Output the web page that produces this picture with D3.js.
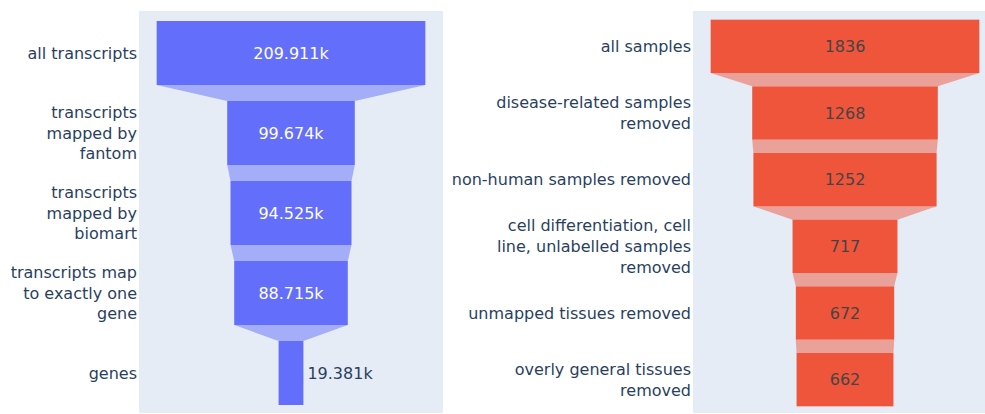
<!DOCTYPE html>
<html>
<head>
<meta charset="utf-8">
<script src="https://cdn.jsdelivr.net/npm/d3@7"></script>
<style>
  html, body { margin: 0; padding: 0; background: #fff; }
  svg { display: block; }
  text { font-family: "DejaVu Sans", Verdana, sans-serif; font-size: 16px; }
</style>
</head>
<body>
<svg id="chart" width="985" height="414"></svg>
<script>
// Transcript filtering funnel
const transcriptStages = [
  "all transcripts",
  "transcripts<br>mapped by<br>fantom",
  "transcripts<br>mapped by<br>biomart",
  "transcripts map<br>to exactly one<br>gene",
  "genes"
];
const transcriptCounts = [209911, 99674, 94525, 88715, 19381];

// Sample filtering funnel
const sampleStages = [
  "all samples",
  "disease-related samples<br>removed",
  "non-human samples removed",
  "cell differentiation, cell<br>line, unlabelled samples<br>removed",
  "unmapped tissues removed",
  "overly general tissues<br>removed"
];
const sampleCounts = [1836, 1268, 1252, 717, 672, 662];

const svg = d3.select("#chart");
const FONT = 16, LINE_H = FONT * 1.3;
const BG = "#E5ECF6", LABEL = "#2a3f5f";

function funnel(opts) {
  const { stages, counts, left, width, top, bottom, color, insideText, fmt } = opts;
  const g = svg.append("g");

  g.append("rect")
    .attr("x", left).attr("y", top - 2)
    .attr("width", width).attr("height", bottom - top + 2)
    .attr("fill", BG);

  const clip = "clip" + left;
  svg.append("clipPath").attr("id", clip)
    .append("rect").attr("x", left).attr("y", top - 2)
    .attr("width", width).attr("height", bottom - top + 2);

  const plot = g.append("g").attr("clip-path", `url(#${clip})`);

  const half = d3.max(counts) / 2 * 1.1315;
  const x = d3.scaleLinear().domain([-half, half]).range([left, left + width]);
  const y = d3.scaleBand().domain(d3.range(stages.length))
    .range([top, bottom]).paddingInner(0.2).paddingOuter(0.1);

  // connectors between consecutive stages
  const fade = d3.interpolateRgb(color, BG)(0.5);
  const pairs = d3.pairs(counts.map((v, i) => ({ v, i })));
  plot.selectAll("path.conn").data(pairs).join("path")
    .attr("class", "conn")
    .attr("fill", fade)
    .attr("d", ([a, b]) => {
      const y0 = y(a.i) + y.bandwidth(), y1 = y(b.i);
      return `M${x(-a.v / 2)},${y0}L${x(a.v / 2)},${y0}L${x(b.v / 2)},${y1}L${x(-b.v / 2)},${y1}Z`;
    });

  // stage bars
  plot.selectAll("rect.bar").data(counts).join("rect")
    .attr("class", "bar")
    .attr("x", d => x(-d / 2))
    .attr("width", d => x(d / 2) - x(-d / 2))
    .attr("y", (d, i) => y(i))
    .attr("height", y.bandwidth())
    .attr("fill", color);

  // value labels: inside the bar when they fit, otherwise to its right
  const vals = plot.selectAll("text.val").data(counts).join("text")
    .attr("class", "val")
    .text(d => fmt(d))
    .attr("y", (d, i) => y(i) + y.bandwidth() / 2 + FONT * 0.36);
  vals.each(function (d) {
    const w = this.getComputedTextLength();
    const bw = x(d / 2) - x(-d / 2);
    const sel = d3.select(this);
    if (w + 6 <= bw) {
      sel.attr("x", x(0)).attr("text-anchor", "middle").attr("fill", insideText);
    } else {
      sel.attr("x", x(d / 2) + 4).attr("text-anchor", "start").attr("fill", LABEL);
    }
  });

  // category labels to the left of the plot area
  stages.forEach((s, i) => {
    const lines = s.split("<br>");
    const cy = y(i) + y.bandwidth() / 2;
    const first = cy - (lines.length - 1) / 2 * LINE_H + FONT * 0.35;
    const t = g.append("text")
      .attr("text-anchor", "end").attr("fill", LABEL);
    lines.forEach((ln, k) => {
      t.append("tspan").attr("x", left - 2).attr("y", first + k * LINE_H).text(ln);
    });
  });
}

funnel({
  stages: transcriptStages, counts: transcriptCounts,
  left: 139, width: 304, top: 13, bottom: 413,
  color: "#636efa", insideText: "#ffffff",
  fmt: d3.format(".6~s")
});

funnel({
  stages: sampleStages, counts: sampleCounts,
  left: 693, width: 304, top: 13, bottom: 413,
  color: "#EF553B", insideText: "#444444",
  fmt: d3.format("d")
});
</script>
</body>
</html>
